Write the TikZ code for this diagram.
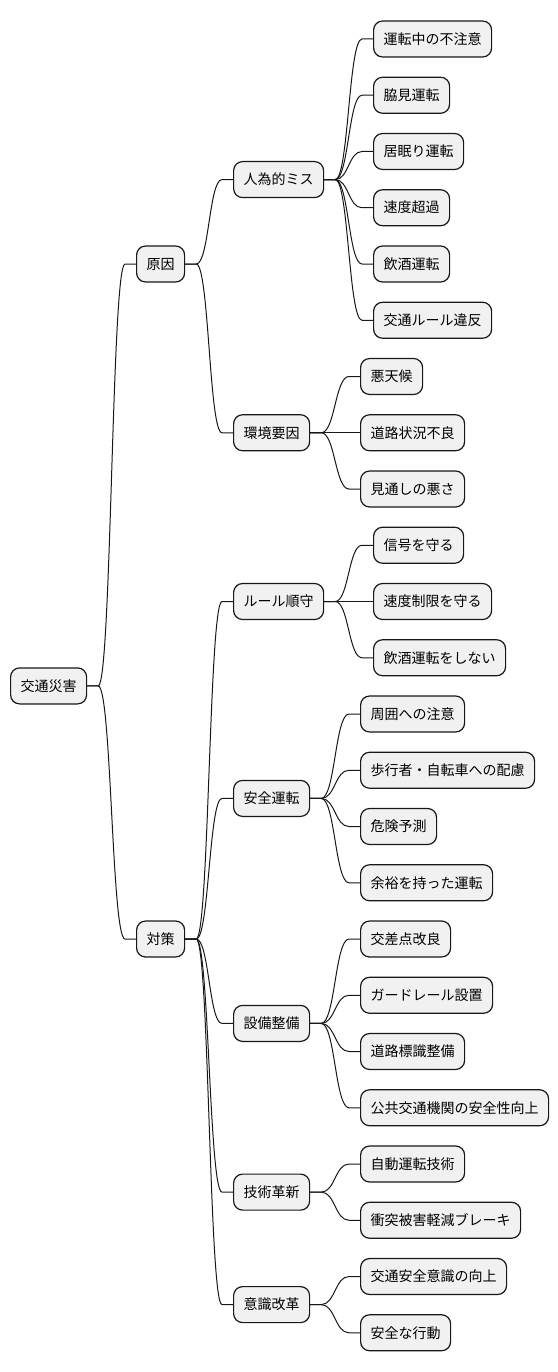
\documentclass[tikz,border=0pt]{standalone}
\usepackage{fontspec}
\setmainfont{Noto Sans CJK JP}
\usetikzlibrary{calc}
\definecolor{boxfill}{HTML}{F1F1F1}
\definecolor{boxline}{HTML}{181818}
\tikzset{
 mmbox/.style={draw=boxline, fill=boxfill, line width=1.2bp, rounded corners=9bp, anchor=west, minimum height=36bp, inner xsep=10bp, inner ysep=0bp, text height=12bp, text depth=1.5bp, font=\fontsize{14bp}{16bp}\selectfont},
 conn/.style={draw=boxline, line width=1bp},
}
\newcommand\mmlink[2]{\draw[conn] let \p1=(#1.east), \p2=(#2.west) in (\p1) -- (\x1+11bp,\y1) .. controls ({(\x1+\x2)/2},\y1) and ({(\x1+\x2)/2},\y2) .. (\x2-11bp,\y2) -- (\p2);}
\begin{document}
\begin{tikzpicture}[x=1bp,y=1bp]
\useasboundingbox (0,0) rectangle (558,-1372);
% root
\node[mmbox] (r) at (10,-685.9) {交通災害};
% level 1
\node[mmbox] (a) at (136,-264) {原因};
\node[mmbox] (b) at (136,-939) {対策};
% level 2
\node[mmbox] (a1) at (233,-179.6) {人為的ミス};
\node[mmbox] (a2) at (233,-432.75) {環境要因};
\node[mmbox] (b1) at (233,-601.5) {ルール順守};
\node[mmbox] (b2) at (233,-798.4) {安全運転};
\node[mmbox] (b3) at (233,-1023.4) {設備整備};
\node[mmbox] (b4) at (233,-1192.1) {技術革新};
\node[mmbox] (b5) at (233,-1304.6) {意識改革};
% level 3
\node[mmbox] (c0) at (373,-39) {運転中の不注意};
\node[mmbox] (c1) at (373,-95.25) {脇見運転};
\node[mmbox] (c2) at (373,-151.5) {居眠り運転};
\node[mmbox] (c3) at (373,-207.75) {速度超過};
\node[mmbox] (c4) at (373,-264) {飲酒運転};
\node[mmbox] (c5) at (373,-320.25) {交通ルール違反};
\node[mmbox] (c6) at (360,-376.5) {悪天候};
\node[mmbox] (c7) at (360,-432.75) {道路状況不良};
\node[mmbox] (c8) at (360,-489) {見通しの悪さ};
\node[mmbox] (c9) at (373,-545.25) {信号を守る};
\node[mmbox] (c10) at (373,-601.5) {速度制限を守る};
\node[mmbox] (c11) at (373,-657.75) {飲酒運転をしない};
\node[mmbox] (c12) at (360,-714) {周囲への注意};
\node[mmbox] (c13) at (360,-770.25) {歩行者・自転車への配慮};
\node[mmbox] (c14) at (360,-826.5) {危険予測};
\node[mmbox] (c15) at (360,-882.75) {余裕を持った運転};
\node[mmbox] (c16) at (360,-939) {交差点改良};
\node[mmbox] (c17) at (360,-995.25) {ガードレール設置};
\node[mmbox] (c18) at (360,-1051.5) {道路標識整備};
\node[mmbox] (c19) at (360,-1107.75) {公共交通機関の安全性向上};
\node[mmbox] (c20) at (360,-1164) {自動運転技術};
\node[mmbox] (c21) at (360,-1220.25) {衝突被害軽減ブレーキ};
\node[mmbox] (c22) at (360,-1276.5) {交通安全意識の向上};
\node[mmbox] (c23) at (360,-1332.75) {安全な行動};
% links
\mmlink{r}{a}
\mmlink{r}{b}
\mmlink{a}{a1}
\mmlink{a}{a2}
\foreach \c in {b1,b2,b3,b4,b5} {\mmlink{b}{\c}}
\foreach \c in {c0,c1,c2,c3,c4,c5} {\mmlink{a1}{\c}}
\foreach \c in {c6,c7,c8} {\mmlink{a2}{\c}}
\foreach \c in {c9,c10,c11} {\mmlink{b1}{\c}}
\foreach \c in {c12,c13,c14,c15} {\mmlink{b2}{\c}}
\foreach \c in {c16,c17,c18,c19} {\mmlink{b3}{\c}}
\foreach \c in {c20,c21} {\mmlink{b4}{\c}}
\foreach \c in {c22,c23} {\mmlink{b5}{\c}}
\end{tikzpicture}
\end{document}
